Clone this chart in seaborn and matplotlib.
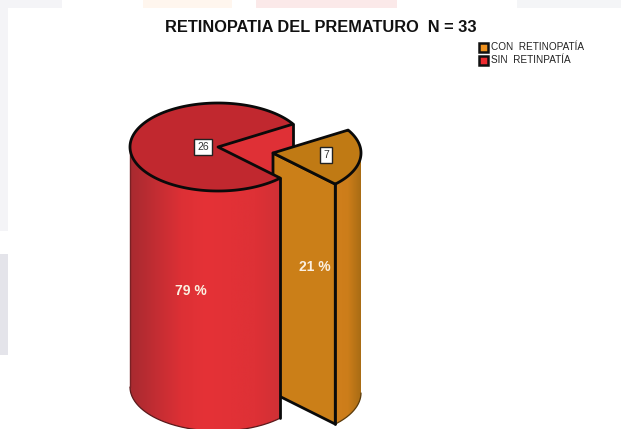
import numpy as np
import matplotlib
matplotlib.use("Agg")
import matplotlib.pyplot as plt
from matplotlib.colors import LinearSegmentedColormap as LSC
from matplotlib.patches import Polygon, Rectangle
import seaborn as sns

title = "RETINOPATIA DEL PREMATURO  N = 33"
categories = ["CON  RETINOPATÍA", "SIN  RETINPATÍA"]
values = [7, 26]
percents = ["21 %", "79 %"]

sns.set_theme(style="white")
plt.rcParams["font.family"] = ["Liberation Sans", "DejaVu Sans"]

fig = plt.figure(figsize=(6.21, 4.29), dpi=100, facecolor="white")
ax = fig.add_axes([0, 0, 1, 1])
ax.set_xlim(0, 621)
ax.set_ylim(429, 0)
ax.axis("off")

# faint page remnants around the picture
for x, y, w, h, c in [(0, 0, 62, 8, "#F4F4F7"), (143, 0, 89, 8, "#FFF6EE"),
                      (256, 0, 141, 8, "#FBE9E9"), (517, 0, 104, 8, "#F4F5F7"),
                      (0, 0, 8, 231, "#F4F4F7"), (0, 254, 8, 101, "#E4E4EA")]:
    ax.add_patch(Rectangle((x, y), w, h, fc=c, ec="none", zorder=0))

cx, cy, rx, ry, depth = 218, 147, 88, 44, 240
off_x, off_y = 55, 6
end_angle = 31.4
span = values[0] / sum(values) * 360
start_angle = end_angle - span


def arc(a0, a1, ox=0, oy=0, n=160):
    t = np.radians(np.linspace(a0, a1, n))
    return np.column_stack([cx + ox + rx * np.cos(t), cy + oy - ry * np.sin(t)])


def shaded(points, colors, zorder):
    """Side wall: polygon filled with a horizontal gradient."""
    poly = Polygon(points, closed=True, fc="none", ec="none", zorder=zorder)
    ax.add_patch(poly)
    x0, x1 = points[:, 0].min(), points[:, 0].max()
    y0, y1 = points[:, 1].min(), points[:, 1].max()
    im = ax.imshow(np.linspace(0, 1, 256)[None, :], cmap=LSC.from_list("g", colors),
                   extent=(x0, x1, y1, y0), aspect="auto", zorder=zorder,
                   interpolation="bilinear")
    im.set_clip_path(poly)


BLACK = "#0A0A0A"
LW = 2.0
RED_TOP, RED_WALL = "#C1282F", "#DF3036"
OR_TOP, OR_FACE = "#C07A14", "#CB7F18"

# red inner walls of the notch
c = np.array([cx, cy])
p1 = arc(end_angle, end_angle, n=1)[0]
p2 = arc(start_angle, start_angle, n=1)[0]
for p in (p1, p2):
    ax.add_patch(Polygon([c, p, p + [0, depth], c + [0, depth]],
                         fc=RED_WALL, ec="none", zorder=2))
ax.plot([p1[0], p1[0]], [p1[1], p1[1] + depth], color=BLACK, lw=LW, zorder=2.5)

# orange slice (pulled out)
oc = c + [off_x, off_y]
op1 = arc(end_angle, end_angle, off_x, off_y, n=1)[0]
op2 = arc(start_angle, start_angle, off_x, off_y, n=1)[0]
ax.add_patch(Polygon([oc, op2, op2 + [0, depth], oc + [0, depth]],
                     fc=OR_FACE, ec=BLACK, lw=LW, joinstyle="round", zorder=3))
side_top = arc(start_angle, 0, off_x, off_y)
side_bot = side_top[::-1] + [0, depth]
shaded(np.vstack([side_top, side_bot]), ["#D07F1C", "#CC7D1A", "#A86C14"], 3.2)
ax.plot(side_bot[:, 0], side_bot[:, 1], color="#5A3A0A", lw=0.9, zorder=3.3)
ax.plot([op2[0], op2[0]], [op2[1], op2[1] + depth], color=BLACK, lw=LW, zorder=3.4)
ax.add_patch(Polygon(np.vstack([oc, arc(start_angle, end_angle, off_x, off_y)]),
                     fc=OR_TOP, ec=BLACK, lw=LW, joinstyle="round", zorder=3.5))

# red slice
side_top = arc(180, 360 + start_angle)
side_bot = side_top[::-1] + [0, depth]
shaded(np.vstack([side_top, side_bot]),
       ["#A82A30", "#C22D33", "#DC3035", "#E53237", "#E23136", "#DE3136", "#D03035"], 4)
ax.plot(side_bot[:, 0], side_bot[:, 1], color="#5A1A1C", lw=0.9, zorder=4.2)
ax.plot([side_top[0, 0]] * 2, [side_top[0, 1], side_bot[-1, 1]], color="#7A2024", lw=1.0, zorder=4.2)
ax.plot([p2[0], p2[0]], [p2[1], p2[1] + depth], color=BLACK, lw=LW, zorder=4.3)
ax.add_patch(Polygon(np.vstack([c, arc(end_angle, 360 + start_angle)]),
                     fc=RED_TOP, ec=BLACK, lw=LW, joinstyle="round", zorder=4.5))

# value boxes and percentages
box = dict(boxstyle="square,pad=0.3", fc="white", ec="#222222", lw=1.0)
ax.text(326, 155, str(values[0]), ha="center", va="center", fontsize=7.5, color="#333333", bbox=box, zorder=6)
ax.text(203, 147, str(values[1]), ha="center", va="center", fontsize=7.5, color="#333333", bbox=box, zorder=6)
ax.text(315, 267, percents[0], ha="center", va="center", fontsize=10, fontweight="bold", color="#FBEFE0", zorder=6)
ax.text(191, 291, percents[1], ha="center", va="center", fontsize=10, fontweight="bold", color="#FBEFE0", zorder=6)

# title and legend
ax.text(320.5, 28, title, ha="center", va="center", fontsize=11.75, fontweight="bold", color="#111111", zorder=6)
for y, col, lab in [(47, "#F0921E", categories[0]), (60, "#EE2B30", categories[1])]:
    ax.add_patch(Rectangle((478.5, y - 4.5), 9, 9, fc=col, ec="#111111", lw=1.8, zorder=6))
    ax.text(491, y, lab, ha="left", va="center", fontsize=7.2, color="#222222", zorder=6)

ax.set_xlim(0, 621)
ax.set_ylim(429, 0)
sns.despine(ax=ax, left=True, bottom=True)
fig.savefig("out.png", dpi=100, facecolor="white")
